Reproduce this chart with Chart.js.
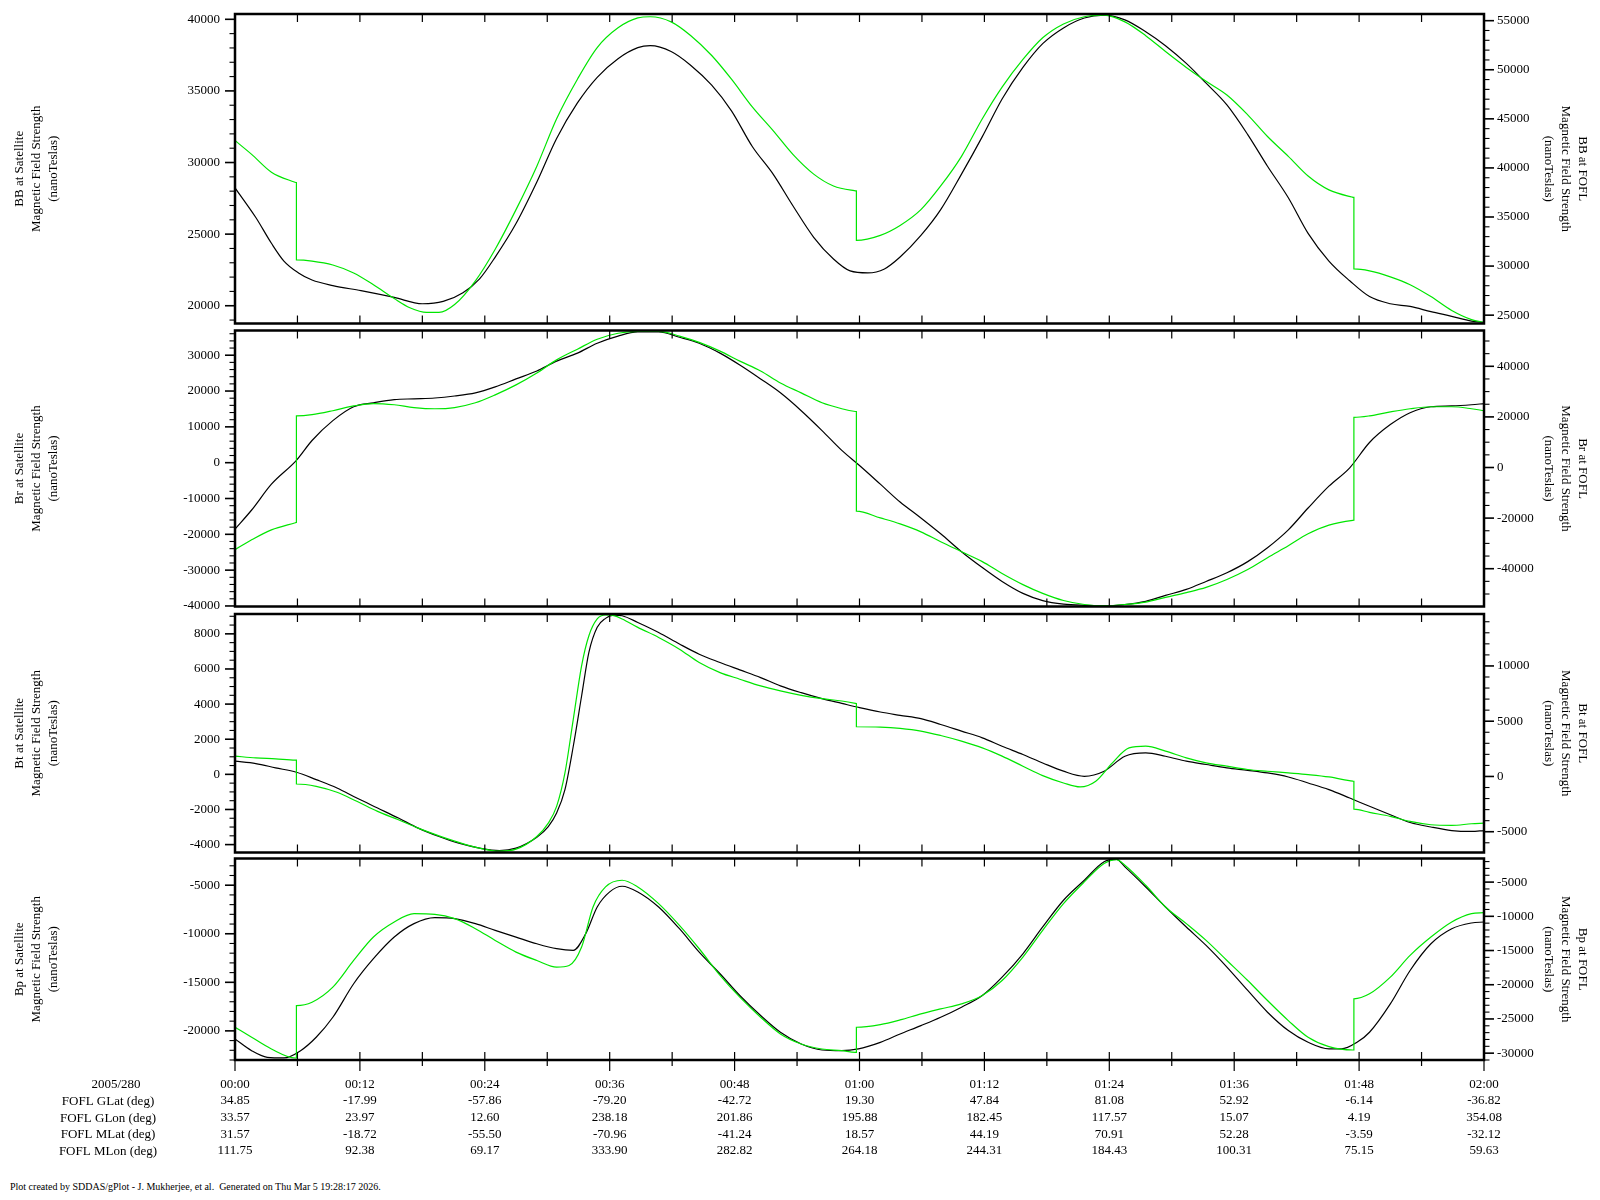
<!DOCTYPE html>
<html>
<head>
<meta charset="utf-8">
<script src="https://cdn.jsdelivr.net/npm/chart.js@4.4.0/dist/chart.umd.min.js"></script>
<style>
  body { margin: 0; background: #fff; width: 1600px; height: 1200px; position: relative; overflow: hidden; }
  canvas { position: absolute; left: 0; }
  #footer { position: absolute; left: 10px; top: 1181px; font: 10px 'Liberation Serif', serif; white-space: pre; color: #000; }
</style>
</head>
<body>
<div id="footer">Plot created by SDDAS/gPlot - J. Mukherjee, et al.  Generated on Thu Mar 5 19:28:17 2026.</div>
<script>
// bottom table (one entry per 12 minutes)
const timeLabels = ['00:00', '00:12', '00:24', '00:36', '00:48', '01:00', '01:12', '01:24', '01:36', '01:48', '02:00'];
const foflGLat = [34.85, -17.99, -57.86, -79.20, -42.72, 19.30, 47.84, 81.08, 52.92, -6.14, -36.82];
const foflGLon = [33.57, 23.97, 12.60, 238.18, 201.86, 195.88, 182.45, 117.57, 15.07, 4.19, 354.08];
const foflMLat = [31.57, -18.72, -55.50, -70.96, -41.24, 18.57, 44.19, 70.91, 52.28, -3.59, -32.12];
const foflMLon = [111.75, 92.38, 69.17, 333.90, 282.82, 264.18, 244.31, 184.43, 100.31, 75.15, 59.63];
const rowNames = ['2005/280', 'FOFL GLat (deg)', 'FOFL GLon (deg)', 'FOFL MLat (deg)', 'FOFL MLon (deg)'];

// [minutes after 00:00, nT]
const bbSat = [[0, 28230], [2, 26160], [3.5, 24360], [4.7, 23120], [6.1, 22290], [7.4, 21800], [9.4, 21410], [12.1, 21050],
  [15.3, 20580], [18, 20140], [20, 20300], [21.9, 20910], [23.5, 21880], [25, 23400], [27, 25740], [29, 28640], [30.9, 31680],
  [32.9, 34160], [34.8, 35950], [36.8, 37250], [38.7, 38020], [39.9, 38160], [41.9, 37750], [43.8, 36780], [45.8, 35400],
  [47.7, 33610], [49.7, 31120], [51.7, 29190], [53.6, 26980], [55.6, 24780], [57.5, 23260], [59.1, 22430], [60.8, 22290],
  [62.4, 22570], [63.9, 23400], [65.9, 24910], [67.8, 26710], [69.8, 29190], [71.8, 31810], [73.7, 34440], [75.7, 36640],
  [77.6, 38300], [79.6, 39400], [81.6, 40090], [83.5, 40290], [85.5, 39960], [87.5, 39130], [89.4, 38160], [91.4, 36920],
  [93.3, 35540], [95.3, 34020], [97.3, 31950], [99.2, 29740], [101.2, 27540], [103.1, 25050], [105.1, 23120], [107.1, 21740],
  [109, 20640], [111, 20140], [112.9, 19950], [114.9, 19590], [116.9, 19260], [118.8, 18930], [120, 18840]];
const bbFofl = [[0, 42790], [1.6, 41380], [3.5, 39570], [5.7, 38570], [5.9, 38500], [5.9, 30630], [7.4, 30510], [9.4, 30110],
  [11.4, 29300], [13.3, 28100], [15.3, 26690], [16.8, 25760], [18.4, 25280], [19.6, 25280], [21.1, 26080], [23.1, 28500],
  [25, 31720], [27, 35750], [29, 40180], [30.9, 45010], [32.9, 49040], [34.8, 52260], [36.8, 54270], [38.7, 55280],
  [39.9, 55400], [41.9, 54880], [43.8, 53470], [45.8, 51450], [47.7, 49040], [49.7, 46220], [51.7, 43800], [53.6, 41380],
  [55.6, 39370], [57.5, 38160], [59.5, 37680], [59.7, 37660], [59.7, 32610], [62, 33130], [63.9, 34140], [65.9, 35750],
  [67.8, 38160], [69.8, 41180], [71.8, 45010], [73.7, 48230], [75.7, 51050], [77.6, 53260], [79.6, 54670], [81.6, 55400],
  [83.5, 55560], [85.5, 54880], [87.5, 53470], [89.4, 51860], [91.4, 50240], [93.3, 48830], [95.3, 47430], [97.3, 45410],
  [99.2, 43200], [101.2, 41180], [103.1, 39170], [105.1, 37760], [107.3, 37040], [107.5, 37000], [107.5, 29710], [109, 29510],
  [111, 28900], [112.9, 28100], [114.9, 26890], [116.9, 25480], [118.8, 24550], [120, 24270]];

const brSat = [[0, -18530], [1.6, -13210], [3.5, -6000], [5.9, 650], [7.4, 6190], [9.4, 11740], [11.4, 15620], [13.3, 16720],
  [15.3, 17610], [17.2, 17830], [19.2, 18050], [21.1, 18610], [23.1, 19500], [25, 21160], [27, 23380], [29, 25590],
  [30.9, 28360], [32.9, 30580], [34.8, 33350], [36.8, 35350], [38.7, 36500], [40.7, 36500], [42.7, 35020], [44.6, 33350],
  [46.6, 30580], [48.5, 27260], [50.5, 23380], [52.4, 19500], [54.4, 14510], [56.4, 8960], [58.3, 3420], [60, -800],
  [62, -6000], [63.9, -10990], [65.9, -15430], [67.8, -19860], [69.8, -24850], [71.8, -29280], [73.7, -33160], [75.7, -36490],
  [77.6, -38490], [79.6, -39480], [81.6, -39820], [83.5, -39930], [85.5, -39590], [87.5, -38710], [89.4, -37040],
  [91.4, -35380], [93.3, -33160], [95.3, -30730], [97.3, -27620], [99.2, -23740], [101.2, -18750], [103.1, -12660],
  [105.1, -6560], [107.1, -1430], [109, 5640], [111, 10630], [112.9, 13950], [114.9, 15620], [116.9, 15840], [118.8, 16170],
  [120, 16500]];
const brFofl = [[0, -32490], [1.6, -28570], [3.5, -24640], [5.8, -21820], [5.9, -21700], [5.9, 20400], [7.4, 20870],
  [9.4, 22440], [11.4, 24330], [13.3, 25270], [15.3, 24800], [17.2, 23700], [19.2, 23230], [21.1, 23700], [23.1, 25580],
  [25, 28720], [27, 32650], [29, 37360], [30.9, 42540], [32.9, 46770], [34.8, 50700], [36.8, 53050], [38.7, 53840],
  [40.7, 53840], [42.7, 51950], [44.6, 49440], [46.6, 45990], [48.5, 42060], [50.5, 38140], [52.4, 33430], [54.4, 29510],
  [56.4, 25580], [58.3, 23230], [59.6, 22130], [59.7, 22100], [59.7, -17270], [62, -19940], [63.9, -22290], [65.9, -25430],
  [67.8, -29350], [69.8, -33280], [71.8, -37200], [73.7, -41910], [75.7, -46300], [77.6, -49760], [79.6, -52580],
  [81.6, -54150], [83.5, -54620], [85.5, -54150], [87.5, -53210], [89.4, -51330], [91.4, -49440], [93.3, -47400],
  [95.3, -44260], [97.3, -40340], [99.2, -35630], [101.2, -30920], [103.1, -26210], [105.1, -22760], [107.4, -20880],
  [107.5, -20850], [107.5, 19780], [109, 20400], [111, 21970], [112.9, 23230], [114.9, 24010], [116.9, 24010], [118.8, 23230],
  [120, 22440]];

const btSat = [[0, 750], [2, 615], [3.9, 370], [5.9, 120], [7.8, -300], [9.8, -780], [11.7, -1350], [13.7, -1920],
  [15.7, -2490], [17.6, -3060], [19.6, -3540], [21.5, -3920], [23.5, -4200], [25.4, -4340], [27, -4200], [29, -3580],
  [30.1, -2970], [30.9, -2200], [31.7, -870], [32.5, 1600], [33.3, 4460], [34, 6940], [34.8, 8370], [35.6, 8880], [36.4, 9070],
  [37.2, 9030], [38.7, 8650], [40.7, 8080], [42.7, 7420], [44.6, 6840], [46.6, 6370], [48.5, 5950], [50.5, 5510], [52.4, 5040],
  [54.4, 4650], [56.4, 4310], [58.3, 4040], [60, 3800], [62, 3550], [63.9, 3360], [65.9, 3170], [67.8, 2840], [69.8, 2460],
  [71.8, 2080], [73.7, 1600], [75.7, 1130], [77.6, 650], [79.6, 180], [81.6, -110], [83.5, 180], [85.5, 1030], [87.5, 1220],
  [89.4, 1030], [91.4, 750], [93.3, 560], [95.3, 370], [97.3, 230], [99.2, 80], [101.2, -150], [103.1, -490], [105.1, -870],
  [107.1, -1350], [109, -1820], [111, -2300], [112.9, -2740], [114.9, -3000], [116.9, -3200], [118.8, -3250], [120, -3200]];
const btFofl = [[0, 1840], [2, 1680], [3.9, 1590], [5.8, 1470], [5.9, 1470], [5.9, -680], [7.8, -890], [9.8, -1430],
  [11.7, -2250], [13.7, -3160], [15.7, -3920], [17.6, -4670], [19.6, -5370], [21.5, -5970], [23.5, -6490], [25.4, -6760],
  [27, -6580], [29, -5430], [30.1, -4220], [30.9, -2710], [31.7, 320], [32.5, 5170], [33.3, 10010], [34, 12730], [34.8, 14250],
  [35.6, 14610], [36.4, 14550], [37.2, 14250], [38.7, 13490], [40.7, 12580], [42.7, 11520], [44.6, 10310], [46.6, 9400],
  [48.5, 8800], [50.5, 8190], [52.4, 7740], [54.4, 7340], [56.4, 7040], [58.3, 6830], [59.6, 6620], [59.7, 6600], [59.7, 4500],
  [62, 4470], [63.9, 4350], [65.9, 4110], [67.8, 3710], [69.8, 3200], [71.8, 2590], [73.7, 1840], [75.7, 930], [77.6, 80],
  [79.6, -590], [81.2, -950], [82.7, -440], [84.3, 1230], [85.9, 2590], [87.5, 2740], [89.4, 2290], [91.4, 1680], [93.3, 1230],
  [95.3, 930], [97.3, 630], [99.2, 470], [101.2, 320], [103.1, 170], [105.1, -40], [107.4, -430], [107.5, -440], [107.5, -2950],
  [109, -3250], [111, -3610], [112.9, -4070], [114.9, -4370], [116.9, -4430], [118.8, -4280], [120, -4220]];

const bpSat = [[0, -20830], [1.6, -22040], [3.1, -22720], [4.7, -22790], [6.3, -22040], [7.8, -20660], [9.4, -18600],
  [11.4, -15150], [13.3, -12570], [15.3, -10340], [17.2, -8960], [19.2, -8340], [21.1, -8440], [23.1, -8960], [25, -9650],
  [27, -10340], [29, -11030], [30.9, -11540], [32.5, -11710], [33.7, -9990], [34.8, -7240], [36, -5690], [37.2, -5110],
  [38.7, -5690], [40.7, -7240], [42.7, -9480], [44.6, -11890], [46.6, -14120], [48.5, -16360], [50.5, -18420], [52.4, -20140],
  [54.4, -21350], [56.4, -21970], [58.3, -22040], [59.9, -21860], [62, -21180], [63.9, -20320], [65.9, -19460], [67.8, -18600],
  [69.8, -17560], [71.8, -16360], [73.7, -14470], [75.7, -12060], [77.6, -9300], [79.6, -6550], [81.6, -4490], [83.5, -2590],
  [84.7, -2350], [85.5, -3110], [87.5, -5180], [89.4, -7240], [91.4, -9300], [93.3, -11200], [95.3, -13430], [97.3, -15840],
  [99.2, -18080], [101.2, -19970], [103.1, -21180], [105.1, -21860], [106.3, -21860], [107.8, -21180], [109, -20140],
  [111, -17220], [112.9, -13780], [114.9, -11030], [116.9, -9480], [118.8, -8890], [120, -8790]];
const bpFofl = [[0, -26210], [1.6, -27680], [3.5, -29390], [5.8, -30710], [5.9, -30700], [5.9, -23040], [7.4, -22550],
  [9.4, -20350], [11.4, -16450], [13.3, -13030], [15.3, -10830], [17.2, -9610], [19.2, -9710], [21.1, -10340], [23.1, -11810],
  [25, -13520], [27, -15230], [29, -16450], [30.9, -17420], [32.1, -17180], [33.3, -14490], [34.4, -8630], [35.6, -5700],
  [37.2, -4730], [38.7, -5700], [40.7, -8140], [42.7, -11320], [44.6, -14740], [46.6, -18640], [48.5, -21820], [50.5, -24750],
  [52.4, -27190], [54.4, -28660], [56.4, -29390], [58.3, -29630], [59.6, -29880], [59.7, -29880], [59.7, -26210],
  [62, -25820], [63.9, -25140], [65.9, -24260], [67.8, -23530], [69.8, -22800], [71.8, -21570], [73.7, -19380], [75.7, -15960],
  [77.6, -12050], [79.6, -8140], [81.6, -4970], [83.5, -2280], [84.7, -1700], [85.5, -2530], [87.5, -5460], [89.4, -8630],
  [91.4, -11070], [93.3, -13520], [95.3, -16450], [97.3, -19380], [99.2, -22310], [101.2, -25240], [103.1, -27680],
  [105.1, -29050], [107.4, -29540], [107.5, -29540], [107.5, -22060], [109, -21330], [111, -18890], [112.9, -15710],
  [114.9, -13030], [116.9, -10830], [118.8, -9610], [120, -9460]];

Chart.defaults.font.family = "'Liberation Serif', 'Times New Roman', serif";
Chart.defaults.font.size = 13;
Chart.defaults.color = '#000';

const PLOT_L = 235, PLOT_R = 1484;

function stepTicks(min, max, step) {
  const out = [];
  for (let v = Math.ceil(min / step) * step; v <= max; v += step) out.push({value: v});
  return out;
}

// frame, inner x ticks and outer y ticks like the gPlot output
const frameTicks = {
  id: 'frameTicks',
  afterDraw(chart, args, opts) {
    const {ctx, chartArea: a, scales: {x, yL, yR}} = chart;
    ctx.save();
    ctx.strokeStyle = '#000';
    x.ticks.forEach(t => {
      const px = x.getPixelForValue(t.value);
      const major = t.value % 12 === 0;
      ctx.lineWidth = 1.2;
      ctx.beginPath();
      if (t.value > 0 && t.value < 120) {
        ctx.moveTo(px, a.top); ctx.lineTo(px, a.top + 8);
        ctx.moveTo(px, a.bottom); ctx.lineTo(px, a.bottom - 8);
      }
      if (opts.outer) {
        ctx.moveTo(px, a.bottom); ctx.lineTo(px, a.bottom + (major ? 11 : 6));
      }
      ctx.stroke();
    });
    [[yL, -1, a.left], [yR, 1, a.right]].forEach(([s, dir, edge]) => {
      s.ticks.forEach(t => {
        const py = s.getPixelForValue(t.value);
        const major = t.label !== '';
        ctx.lineWidth = major ? 1.6 : 1.1;
        ctx.beginPath();
        ctx.moveTo(edge, py);
        ctx.lineTo(edge + dir * (major ? 10 : 5.5), py);
        ctx.stroke();
      });
    });
    ctx.lineWidth = 2.5;
    ctx.strokeRect(a.left, a.top, a.right - a.left, a.bottom - a.top);
    ctx.restore();
  }
};

const rowHeads = {
  id: 'rowHeads',
  afterDraw(chart) {
    const {ctx, scales: {x}} = chart;
    ctx.save();
    ctx.font = "13px 'Liberation Serif', serif";
    ctx.fillStyle = '#000';
    ctx.textAlign = 'center';
    ctx.textBaseline = 'middle';
    rowNames.forEach((n, i) => {
      ctx.fillText(n, i === 0 ? 116 : 108, x.top + 16.5 + 8.33 + i * 16.67);
    });
    ctx.restore();
  }
};

function yScale(ax, pos, title) {
  return {
    type: 'linear', position: pos, min: ax[0], max: ax[1],
    afterBuildTicks: s => { s.ticks = stepTicks(ax[0], ax[1], ax[2]); },
    afterFit: s => {
      s.width = pos === 'left' ? PLOT_L : 1600 - PLOT_R;
      s.paddingTop = 0;
      s.paddingBottom = 0;
    },
    grid: {display: false, drawTicks: false},
    border: {display: false},
    ticks: {autoSkip: false, padding: pos === 'left' ? 15 : 13,
      callback: v => (v % ax[3] === 0 ? String(v) : '')},
    title: {display: true, text: title, font: {size: 13, lineHeight: '17px'},
      padding: {top: pos === 'left' ? 11.5 : 9.5, bottom: 0}}
  };
}

function makePanel(p) {
  const cv = document.createElement('canvas');
  const top = Math.round(p.top) - 12;
  const h = p.last ? 1200 - top : Math.round(p.bottom) + 12 - top;
  cv.width = 1600;
  cv.height = h;
  cv.style.top = top + 'px';
  document.body.appendChild(cv);
  const line = (pts, color, axis) => ({
    data: pts.map(([x, y]) => ({x, y})), yAxisID: axis, borderColor: color, borderWidth: 1.2,
    pointRadius: 0, cubicInterpolationMode: 'monotone', fill: false
  });
  new Chart(cv, {
    type: 'line',
    data: {datasets: [line(p.fofl, '#00e600', 'yR'), line(p.sat, '#000000', 'yL')]},
    options: {
      responsive: false, animation: false,
      layout: {padding: {left: 0, right: 0, top: p.top - top, bottom: p.last ? 0 : top + h - p.bottom}},
      plugins: {legend: {display: false}, tooltip: {enabled: false}, frameTicks: {outer: !!p.last}},
      scales: {
        x: {
          type: 'linear', min: 0, max: 120,
          afterBuildTicks: s => { s.ticks = stepTicks(0, 120, 6); },
          afterFit: s => { s.height = p.last ? 1200 - p.bottom : 0; },
          grid: {display: false, drawTicks: false},
          border: {display: false},
          ticks: {display: !!p.last, autoSkip: false, maxRotation: 0, padding: 16,
            font: {size: 13, lineHeight: '16.67px'},
            callback: v => {
              if (v % 12 !== 0) return '';
              const i = v / 12;
              return [timeLabels[i], foflGLat[i].toFixed(2), foflGLon[i].toFixed(2),
                foflMLat[i].toFixed(2), foflMLon[i].toFixed(2)];
            }}
        },
        yL: yScale(p.left, 'left', [p.name + ' at Satellite', 'Magnetic Field Strength', '(nanoTeslas)']),
        yR: yScale(p.right, 'right', [p.name + ' at FOFL', 'Magnetic Field Strength', '(nanoTeslas)'])
      }
    },
    plugins: p.last ? [frameTicks, rowHeads] : [frameTicks]
  });
}

// axis: [min, max, minor step, labelled step]
makePanel({name: 'BB', top: 14, bottom: 323.5, sat: bbSat, fofl: bbFofl,
  left: [18760, 40370, 1000, 5000], right: [24150, 55680, 1000, 5000]});
makePanel({name: 'Br', top: 330.5, bottom: 606.5, sat: brSat, fofl: brFofl,
  left: [-40150, 36900, 2000, 10000], right: [-54940, 54150, 5000, 20000]});
makePanel({name: 'Bt', top: 614, bottom: 852.5, sat: btSat, fofl: btFofl,
  left: [-4450, 9130, 500, 2000], right: [-6880, 14700, 1000, 5000]});
makePanel({name: 'Bp', top: 858.5, bottom: 1060, sat: bpSat, fofl: bpFofl, last: true,
  left: [-23000, -2250, 1000, 5000], right: [-31000, -1550, 1000, 5000]});
</script>
</body>
</html>
